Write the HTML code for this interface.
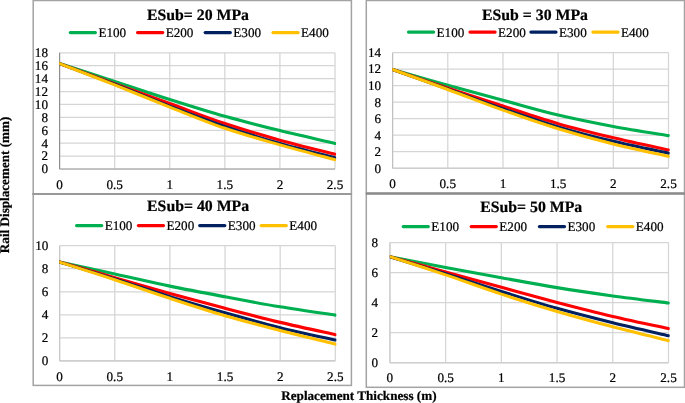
<!DOCTYPE html>
<html><head><meta charset="utf-8"><title>Rail Displacement vs Replacement Thickness</title>
<style>html,body{margin:0;padding:0;background:#fff}svg{display:block}text{font-family:"Liberation Serif", "Times New Roman", serif;fill:#000;text-rendering:geometricPrecision;stroke:#000;stroke-width:0.22px}</style></head><body>
<svg width="685" height="403" viewBox="0 0 685 403">
<rect width="685" height="403" fill="#fff"/>
<rect x="33.20" y="0.50" width="318.20" height="193.30" fill="#fff" stroke="#a3a3a3" stroke-width="1.5"/>
<rect x="366.30" y="0.50" width="318.20" height="193.10" fill="#fff" stroke="#a3a3a3" stroke-width="1.5"/>
<rect x="33.20" y="193.80" width="318.20" height="191.60" fill="#fff" stroke="#a3a3a3" stroke-width="1.5"/>
<rect x="366.30" y="193.60" width="318.20" height="193.70" fill="#fff" stroke="#a3a3a3" stroke-width="1.5"/>
<path d="M32.45,194.0 H351.9" stroke="#999999" stroke-width="1.9" fill="none"/>
<path d="M365.9,193.5 H685" stroke="#8c8c8c" stroke-width="2.3" fill="none"/>
<path d="M59.60,52.75 H335.00 M59.60,65.67 H335.00 M59.60,78.58 H335.00 M59.60,91.50 H335.00 M59.60,104.42 H335.00 M59.60,117.33 H335.00 M59.60,130.25 H335.00 M59.60,143.17 H335.00 M59.60,156.08 H335.00 M59.60,169.00 H335.00 M59.60,52.75 V169.00 M114.68,52.75 V169.00 M169.76,52.75 V169.00 M224.84,52.75 V169.00 M279.92,52.75 V169.00 M335.00,52.75 V169.00" stroke="#d5d5d5" stroke-width="1.25" fill="none"/>
<path d="M59.60,169.00 H335.00" stroke="#a0a0a0" stroke-width="1.10" fill="none"/>
<path d="M59.60,52.75 V169.00" stroke="#8c8c8c" stroke-width="1.10" fill="none"/>
<clipPath id="c0"><rect x="59.10" y="47.75" width="277.10" height="126.25"/></clipPath>
<g clip-path="url(#c0)">
<path d="M59.60,63.60 C68.78,66.57 96.32,75.42 114.68,81.39 C133.04,87.37 151.40,93.64 169.76,99.45 C188.12,105.26 206.48,111.07 224.84,116.26 C243.20,121.45 261.56,126.07 279.92,130.60 C298.28,135.12 325.82,141.29 335.00,143.43" stroke="#00B050" stroke-width="3.1" fill="none" stroke-linecap="round" stroke-linejoin="round"/>
<path d="M59.60,63.60 C68.78,66.95 96.32,77.03 114.68,83.68 C133.04,90.32 151.40,96.84 169.76,103.49 C188.12,110.13 206.48,117.44 224.84,123.56 C243.20,129.67 261.56,135.07 279.92,140.18 C298.28,145.28 325.82,151.85 335.00,154.19" stroke="#FF0000" stroke-width="3.1" fill="none" stroke-linecap="round" stroke-linejoin="round"/>
<path d="M59.60,63.60 C68.78,67.05 96.32,77.17 114.68,84.26 C133.04,91.35 151.40,99.14 169.76,106.16 C188.12,113.17 206.48,120.15 224.84,126.36 C243.20,132.57 261.56,138.20 279.92,143.43 C298.28,148.67 325.82,155.38 335.00,157.77" stroke="#002060" stroke-width="3.1" fill="none" stroke-linecap="round" stroke-linejoin="round"/>
<path d="M59.60,63.60 C68.78,67.16 96.32,77.66 114.68,84.91 C133.04,92.17 151.40,99.90 169.76,107.14 C188.12,114.37 206.48,122.03 224.84,128.31 C243.20,134.60 261.56,139.63 279.92,144.87 C298.28,150.10 325.82,157.25 335.00,159.72" stroke="#FFC000" stroke-width="3.1" fill="none" stroke-linecap="round" stroke-linejoin="round"/>
</g>
<text x="198.00" y="20.30" font-size="15.80" font-weight="bold" text-anchor="middle">ESub= 20 MPa</text>
<path d="M70.25,32.60 H95.45" stroke="#00B050" stroke-width="3.1" stroke-linecap="round" fill="none"/>
<text x="98.40" y="37.10" font-size="13.15">E100</text>
<path d="M137.55,32.60 H162.75" stroke="#FF0000" stroke-width="3.1" stroke-linecap="round" fill="none"/>
<text x="165.70" y="37.10" font-size="13.15">E200</text>
<path d="M205.15,32.60 H230.35" stroke="#002060" stroke-width="3.1" stroke-linecap="round" fill="none"/>
<text x="233.30" y="37.10" font-size="13.15">E300</text>
<path d="M272.95,32.60 H298.15" stroke="#FFC000" stroke-width="3.1" stroke-linecap="round" fill="none"/>
<text x="301.10" y="37.10" font-size="13.15">E400</text>
<text x="48.00" y="56.90" font-size="13.15" text-anchor="end">18</text>
<text x="48.00" y="69.84" font-size="13.15" text-anchor="end">16</text>
<text x="48.00" y="82.79" font-size="13.15" text-anchor="end">14</text>
<text x="48.00" y="95.73" font-size="13.15" text-anchor="end">12</text>
<text x="48.00" y="108.68" font-size="13.15" text-anchor="end">10</text>
<text x="48.00" y="121.62" font-size="13.15" text-anchor="end">8</text>
<text x="48.00" y="134.57" font-size="13.15" text-anchor="end">6</text>
<text x="48.00" y="147.51" font-size="13.15" text-anchor="end">4</text>
<text x="48.00" y="160.46" font-size="13.15" text-anchor="end">2</text>
<text x="48.00" y="173.40" font-size="13.15" text-anchor="end">0</text>
<text x="59.60" y="189.00" font-size="13.15" text-anchor="middle">0</text>
<text x="114.68" y="189.00" font-size="13.15" text-anchor="middle">0.5</text>
<text x="169.76" y="189.00" font-size="13.15" text-anchor="middle">1</text>
<text x="224.84" y="189.00" font-size="13.15" text-anchor="middle">1.5</text>
<text x="279.92" y="189.00" font-size="13.15" text-anchor="middle">2</text>
<text x="335.00" y="189.00" font-size="13.15" text-anchor="middle">2.5</text>
<path d="M392.60,52.65 H668.50 M392.60,69.16 H668.50 M392.60,85.66 H668.50 M392.60,102.17 H668.50 M392.60,118.68 H668.50 M392.60,135.19 H668.50 M392.60,151.69 H668.50 M392.60,168.20 H668.50 M392.60,52.65 V168.20 M447.78,52.65 V168.20 M502.96,52.65 V168.20 M558.14,52.65 V168.20 M613.32,52.65 V168.20 M668.50,52.65 V168.20" stroke="#d5d5d5" stroke-width="1.25" fill="none"/>
<path d="M392.60,168.20 H668.50" stroke="#c8c8c8" stroke-width="1.10" fill="none"/>
<path d="M392.60,52.65 V168.20" stroke="#bfbfbf" stroke-width="1.10" fill="none"/>
<clipPath id="c1"><rect x="392.20" y="47.65" width="277.50" height="125.55"/></clipPath>
<g clip-path="url(#c1)">
<path d="M392.60,69.58 C401.80,72.21 429.39,80.20 447.78,85.31 C466.17,90.43 484.57,95.35 502.96,100.30 C521.35,105.25 539.75,110.67 558.14,115.03 C576.53,119.39 594.93,123.02 613.32,126.46 C631.71,129.89 659.30,134.12 668.50,135.65" stroke="#00B050" stroke-width="3.1" fill="none" stroke-linecap="round" stroke-linejoin="round"/>
<path d="M392.60,69.58 C401.80,72.65 429.39,81.88 447.78,87.96 C466.17,94.05 484.57,100.15 502.96,106.09 C521.35,112.04 539.75,118.37 558.14,123.64 C576.53,128.91 594.93,133.33 613.32,137.72 C631.71,142.11 659.30,147.93 668.50,149.97" stroke="#FF0000" stroke-width="3.1" fill="none" stroke-linecap="round" stroke-linejoin="round"/>
<path d="M392.60,69.58 C401.80,72.83 429.39,82.51 447.78,89.04 C466.17,95.57 484.57,102.44 502.96,108.74 C521.35,115.05 539.75,121.44 558.14,126.87 C576.53,132.31 594.93,136.97 613.32,141.36 C631.71,145.75 659.30,151.23 668.50,153.20" stroke="#002060" stroke-width="3.1" fill="none" stroke-linecap="round" stroke-linejoin="round"/>
<path d="M392.60,69.58 C401.80,72.90 429.39,82.69 447.78,89.45 C466.17,96.21 484.57,103.60 502.96,110.15 C521.35,116.70 539.75,123.12 558.14,128.78 C576.53,134.43 594.93,139.50 613.32,144.09 C631.71,148.69 659.30,154.30 668.50,156.34" stroke="#FFC000" stroke-width="3.1" fill="none" stroke-linecap="round" stroke-linejoin="round"/>
</g>
<text x="535.00" y="19.60" font-size="15.80" font-weight="bold" text-anchor="middle">ESub = 30 MPa</text>
<path d="M408.45,32.10 H433.65" stroke="#00B050" stroke-width="3.1" stroke-linecap="round" fill="none"/>
<text x="436.60" y="36.60" font-size="13.15">E100</text>
<path d="M469.95,32.10 H495.15" stroke="#FF0000" stroke-width="3.1" stroke-linecap="round" fill="none"/>
<text x="498.10" y="36.60" font-size="13.15">E200</text>
<path d="M530.85,32.10 H556.05" stroke="#002060" stroke-width="3.1" stroke-linecap="round" fill="none"/>
<text x="559.00" y="36.60" font-size="13.15">E300</text>
<path d="M592.85,32.10 H618.05" stroke="#FFC000" stroke-width="3.1" stroke-linecap="round" fill="none"/>
<text x="621.00" y="36.60" font-size="13.15">E400</text>
<text x="381.10" y="56.70" font-size="13.15" text-anchor="end">14</text>
<text x="381.10" y="73.30" font-size="13.15" text-anchor="end">12</text>
<text x="381.10" y="89.90" font-size="13.15" text-anchor="end">10</text>
<text x="381.10" y="106.50" font-size="13.15" text-anchor="end">8</text>
<text x="381.10" y="123.10" font-size="13.15" text-anchor="end">6</text>
<text x="381.10" y="139.70" font-size="13.15" text-anchor="end">4</text>
<text x="381.10" y="156.30" font-size="13.15" text-anchor="end">2</text>
<text x="381.10" y="172.90" font-size="13.15" text-anchor="end">0</text>
<text x="392.60" y="188.30" font-size="13.15" text-anchor="middle">0</text>
<text x="447.78" y="188.30" font-size="13.15" text-anchor="middle">0.5</text>
<text x="502.96" y="188.30" font-size="13.15" text-anchor="middle">1</text>
<text x="558.14" y="188.30" font-size="13.15" text-anchor="middle">1.5</text>
<text x="613.32" y="188.30" font-size="13.15" text-anchor="middle">2</text>
<text x="668.50" y="188.30" font-size="13.15" text-anchor="middle">2.5</text>
<path d="M59.65,245.65 H335.30 M59.65,268.70 H335.30 M59.65,291.75 H335.30 M59.65,314.80 H335.30 M59.65,337.85 H335.30 M59.65,360.90 H335.30 M59.65,245.65 V360.90 M114.78,245.65 V360.90 M169.91,245.65 V360.90 M225.04,245.65 V360.90 M280.17,245.65 V360.90 M335.30,245.65 V360.90" stroke="#d5d5d5" stroke-width="1.25" fill="none"/>
<path d="M59.65,360.90 H335.30" stroke="#c8c8c8" stroke-width="1.10" fill="none"/>
<path d="M59.65,245.65 V360.90" stroke="#c8c8c8" stroke-width="1.10" fill="none"/>
<clipPath id="c2"><rect x="59.15" y="240.65" width="277.35" height="125.25"/></clipPath>
<g clip-path="url(#c2)">
<path d="M59.65,262.11 C68.84,264.08 96.40,269.94 114.78,273.95 C133.16,277.96 151.53,282.33 169.91,286.14 C188.29,289.95 206.66,293.38 225.04,296.83 C243.42,300.28 261.79,303.79 280.17,306.84 C298.55,309.89 326.11,313.74 335.30,315.12" stroke="#00B050" stroke-width="3.1" fill="none" stroke-linecap="round" stroke-linejoin="round"/>
<path d="M59.65,262.11 C68.84,264.69 96.40,272.40 114.78,277.63 C133.16,282.86 151.53,288.38 169.91,293.50 C188.29,298.62 206.66,303.52 225.04,308.33 C243.42,313.15 261.79,317.98 280.17,322.37 C298.55,326.75 326.11,332.62 335.30,334.67" stroke="#FF0000" stroke-width="3.1" fill="none" stroke-linecap="round" stroke-linejoin="round"/>
<path d="M59.65,262.11 C68.84,264.90 96.40,273.13 114.78,278.89 C133.16,284.66 151.53,291.07 169.91,296.72 C188.29,302.37 206.66,307.66 225.04,312.82 C243.42,317.98 261.79,323.13 280.17,327.65 C298.55,332.18 326.11,337.91 335.30,339.96" stroke="#002060" stroke-width="3.1" fill="none" stroke-linecap="round" stroke-linejoin="round"/>
<path d="M59.65,262.11 C68.84,265.04 96.40,273.66 114.78,279.70 C133.16,285.74 151.53,292.33 169.91,298.33 C188.29,304.33 206.66,310.33 225.04,315.69 C243.42,321.06 261.79,325.80 280.17,330.53 C298.55,335.26 326.11,341.84 335.30,344.10" stroke="#FFC000" stroke-width="3.1" fill="none" stroke-linecap="round" stroke-linejoin="round"/>
</g>
<text x="198.10" y="211.30" font-size="15.80" font-weight="bold" text-anchor="middle">ESub= 40 MPa</text>
<path d="M76.55,225.60 H101.75" stroke="#00B050" stroke-width="3.1" stroke-linecap="round" fill="none"/>
<text x="104.70" y="230.10" font-size="13.15">E100</text>
<path d="M138.35,225.60 H163.55" stroke="#FF0000" stroke-width="3.1" stroke-linecap="round" fill="none"/>
<text x="166.50" y="230.10" font-size="13.15">E200</text>
<path d="M199.65,225.60 H224.85" stroke="#002060" stroke-width="3.1" stroke-linecap="round" fill="none"/>
<text x="227.80" y="230.10" font-size="13.15">E300</text>
<path d="M261.15,225.60 H286.35" stroke="#FFC000" stroke-width="3.1" stroke-linecap="round" fill="none"/>
<text x="289.30" y="230.10" font-size="13.15">E400</text>
<text x="48.30" y="249.70" font-size="13.15" text-anchor="end">10</text>
<text x="48.30" y="272.84" font-size="13.15" text-anchor="end">8</text>
<text x="48.30" y="295.98" font-size="13.15" text-anchor="end">6</text>
<text x="48.30" y="319.12" font-size="13.15" text-anchor="end">4</text>
<text x="48.30" y="342.26" font-size="13.15" text-anchor="end">2</text>
<text x="48.30" y="365.40" font-size="13.15" text-anchor="end">0</text>
<text x="59.65" y="381.00" font-size="13.15" text-anchor="middle">0</text>
<text x="114.78" y="381.00" font-size="13.15" text-anchor="middle">0.5</text>
<text x="169.91" y="381.00" font-size="13.15" text-anchor="middle">1</text>
<text x="225.04" y="381.00" font-size="13.15" text-anchor="middle">1.5</text>
<text x="280.17" y="381.00" font-size="13.15" text-anchor="middle">2</text>
<text x="335.30" y="381.00" font-size="13.15" text-anchor="middle">2.5</text>
<path d="M389.90,242.50 H668.50 M389.90,272.55 H668.50 M389.90,302.60 H668.50 M389.90,332.65 H668.50 M389.90,362.70 H668.50 M389.90,242.50 V362.70 M445.62,242.50 V362.70 M501.34,242.50 V362.70 M557.06,242.50 V362.70 M612.78,242.50 V362.70 M668.50,242.50 V362.70" stroke="#d5d5d5" stroke-width="1.25" fill="none"/>
<path d="M389.90,362.70 H668.50" stroke="#d0d0d0" stroke-width="1.40" fill="none"/>
<path d="M389.90,242.50 V362.70" stroke="#d0d0d0" stroke-width="1.40" fill="none"/>
<clipPath id="c3"><rect x="389.90" y="237.50" width="279.80" height="130.20"/></clipPath>
<g clip-path="url(#c3)">
<path d="M389.90,256.65 C399.19,258.45 427.05,263.97 445.62,267.48 C464.19,271.00 482.77,274.36 501.34,277.72 C519.91,281.08 538.49,284.62 557.06,287.65 C575.63,290.69 594.21,293.37 612.78,295.93 C631.35,298.49 659.21,301.82 668.50,303.00" stroke="#00B050" stroke-width="3.1" fill="none" stroke-linecap="round" stroke-linejoin="round"/>
<path d="M389.90,256.65 C399.19,259.21 427.05,266.88 445.62,272.00 C464.19,277.12 482.77,282.28 501.34,287.35 C519.91,292.42 538.49,297.56 557.06,302.40 C575.63,307.24 594.21,312.03 612.78,316.40 C631.35,320.76 659.21,326.56 668.50,328.59" stroke="#FF0000" stroke-width="3.1" fill="none" stroke-linecap="round" stroke-linejoin="round"/>
<path d="M389.90,256.65 C399.19,259.51 427.05,268.01 445.62,273.81 C464.19,279.60 482.77,285.67 501.34,291.41 C519.91,297.16 538.49,303.05 557.06,308.27 C575.63,313.49 594.21,318.15 612.78,322.72 C631.35,327.28 659.21,333.50 668.50,335.66" stroke="#002060" stroke-width="3.1" fill="none" stroke-linecap="round" stroke-linejoin="round"/>
<path d="M389.90,256.65 C399.19,259.68 427.05,268.61 445.62,274.86 C464.19,281.10 482.77,288.03 501.34,294.12 C519.91,300.22 538.49,305.99 557.06,311.43 C575.63,316.87 594.21,321.91 612.78,326.78 C631.35,331.65 659.21,338.32 668.50,340.63" stroke="#FFC000" stroke-width="3.1" fill="none" stroke-linecap="round" stroke-linejoin="round"/>
</g>
<text x="531.20" y="212.10" font-size="15.80" font-weight="bold" text-anchor="middle">ESub= 50 MPa</text>
<path d="M403.15,226.60 H428.35" stroke="#00B050" stroke-width="3.1" stroke-linecap="round" fill="none"/>
<text x="431.30" y="231.10" font-size="13.15">E100</text>
<path d="M471.15,226.60 H496.35" stroke="#FF0000" stroke-width="3.1" stroke-linecap="round" fill="none"/>
<text x="499.30" y="231.10" font-size="13.15">E200</text>
<path d="M539.35,226.60 H564.55" stroke="#002060" stroke-width="3.1" stroke-linecap="round" fill="none"/>
<text x="567.50" y="231.10" font-size="13.15">E300</text>
<path d="M607.65,226.60 H632.85" stroke="#FFC000" stroke-width="3.1" stroke-linecap="round" fill="none"/>
<text x="635.80" y="231.10" font-size="13.15">E400</text>
<text x="378.20" y="246.70" font-size="13.15" text-anchor="end">8</text>
<text x="378.20" y="276.75" font-size="13.15" text-anchor="end">6</text>
<text x="378.20" y="306.80" font-size="13.15" text-anchor="end">4</text>
<text x="378.20" y="336.85" font-size="13.15" text-anchor="end">2</text>
<text x="378.20" y="366.90" font-size="13.15" text-anchor="end">0</text>
<text x="389.90" y="382.30" font-size="13.15" text-anchor="middle">0</text>
<text x="445.62" y="382.30" font-size="13.15" text-anchor="middle">0.5</text>
<text x="501.34" y="382.30" font-size="13.15" text-anchor="middle">1</text>
<text x="557.06" y="382.30" font-size="13.15" text-anchor="middle">1.5</text>
<text x="612.78" y="382.30" font-size="13.15" text-anchor="middle">2</text>
<text x="668.50" y="382.30" font-size="13.15" text-anchor="middle">2.5</text>
<text x="358.9" y="400.0" font-size="13.15" font-weight="bold" text-anchor="middle">Replacement Thickness (m)</text>
<text transform="translate(9,184.9) rotate(-90)" font-size="13.15" font-weight="bold" text-anchor="middle">Rail Displacement (mm)</text>
</svg></body></html>
